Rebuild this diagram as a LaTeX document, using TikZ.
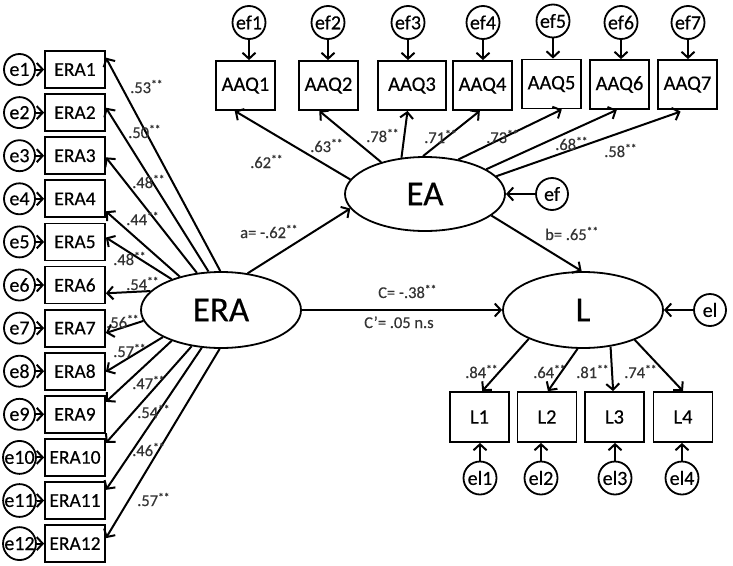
\documentclass[tikz,border=0pt]{standalone}
\usepackage{fontspec}
\setmainfont{Carlito}[FakeBold=0.4]
\usetikzlibrary{shapes.geometric,arrows.meta}
\newcommand{\sg}{\raisebox{0.3em}{\fontsize{11.5}{11.5}\selectfont **}}
\begin{document}
\begin{tikzpicture}[x=1pt,y=-1pt,
  obs/.style={draw, line width=1.8pt, minimum width=59pt, minimum height=49pt, inner sep=0pt, font=\fontsize{20.5}{20.5}\selectfont},
  erabox/.style={obs, minimum width=60pt, minimum height=37pt, font=\fontsize{19.5}{19.5}\selectfont},
  err/.style={draw, circle, line width=1.8pt, minimum size=31pt, inner sep=0pt, font=\fontsize{20}{20}\selectfont},
  lat/.style={draw, ellipse, line width=1.8pt, minimum width=160pt, minimum height=76pt, inner sep=0pt, font=\fontsize{35}{35}\selectfont},
  arr/.style={line width=2pt, -{Straight Barb[length=6pt,width=13pt]}},
  coef/.style={font=\fontsize{16.5}{17}\selectfont, anchor=base west, inner sep=0pt, text=black!80}]
\useasboundingbox (0,0) rectangle (733,565);

% latent variables
\node[lat] (ERA) at (221,310) {ERA};
\node[lat, minimum height=74pt] (EA) at (425,194) {EA};
\node[lat] (L) at (583,310) {L};

% ERA indicators
\foreach \i in {1,...,12} {
  \node[erabox] (ERA\i) at (75,{69.5+(\i-1)*43.1}) {ERA\i};
  \node[err] (e\i) at (19.5,{69.5+(\i-1)*43.1}) {e\i};
  \draw[arr] (e\i) -- (ERA\i);
}
\foreach \i/\a/\b in {1/91.5/21, 2/108.4/9.5, 3/123.7/-3, 4/141.5/-22, 5/148.5/8.5, 6/165.8/-15,
                      7/188.7/-9.3, 8/205/-1.5, 9/212.3/22.3, 10/231/25.6, 11/243.4/19.3, 12/268.5/10.6}
  \draw[arr] (ERA.\a) -- (ERA\i.\b);

\node[coef] at (130,93) {.53\sg};
\node[coef] at (128,138) {.50\sg};
\node[coef] at (132,188) {.48\sg};
\node[coef] at (126,225) {.44\sg};
\node[coef] at (113,265) {.48\sg};
\node[coef] at (126,290) {.54\sg};
\node[coef] at (106,328) {.56\sg};
\node[coef] at (113,357) {.57\sg};
\node[coef] at (132,389) {.47\sg};
\node[coef] at (137,418) {.54\sg};
\node[coef] at (132,456) {.46\sg};
\node[coef] at (137,506) {.57\sg};

% AAQ indicators
\foreach \n/\x/\y/\w in {1/245.5/85.5/59, 2/328.5/85.5/59, 3/412/85.5/68, 4/482.5/85.5/59, 5/551.5/84/59, 6/619.5/84.5/59, 7/687.5/84.5/59}
  \node[obs, minimum width=\w pt] (AAQ\n) at (\x,\y) {AAQ\n};
\foreach \n/\x/\y in {1/249/22.5, 2/328/22.5, 3/408/22.5, 4/483/22.5, 5/553/21, 6/621/22.5, 7/688/22.5} {
  \node[err, minimum size=33pt] (ef\n) at (\x,\y) {ef\n};
  \draw[arr] (ef\n) -- (ef\n |- AAQ\n.north);
}
\foreach \n/\a/\b/\s in {1/169.8/247/0, 2/144.5/250/0, 3/123.7/260.7/0, 4/93/264/0, 5/46.8/292.8/0, 6/22.6/264/0, 7/14/265/5}
  \draw[arr, shorten >=\s pt] (EA.\a) -- (AAQ\n.\b);

\node[coef] at (250,168) {.62\sg};
\node[coef] at (310,152) {.63\sg};
\node[coef] at (366,142) {.78\sg};
\node[coef] at (424,143) {.71\sg};
\node[coef] at (486,143) {.73\sg};
\node[coef] at (555,150) {.68\sg};
\node[coef] at (604,157) {.58\sg};

% disturbances of latent variables
\node[err, minimum size=32pt] (ef) at (552,194) {ef};
\draw[arr] (ef) -- (EA);
\node[err, minimum size=32pt] (el) at (710,310) {el};
\draw[arr] (el) -- (L);

% structural paths
\draw[arr] (ERA.54.8) -- (EA.191);
\draw[arr] (EA.-18.2) -- (L.92);
\draw[arr] (ERA) -- (L);
\node[coef] at (240,238) {a= -.62\sg};
\node[coef] at (545,240) {b= .65\sg};
\node[coef] at (378,298) {C= -.38\sg};
\node[coef] at (364,328) {C’= .05 n.s};

% L indicators
\foreach \n/\x/\ex in {1/479.5/480, 2/547/541, 3/614.5/615, 4/683/682} {
  \node[obs, minimum height=50pt] (L\n) at (\x,417) {L\n};
  \node[err, minimum size=33pt] (el\n) at (\ex,478) {el\n};
  \draw[arr] (el\n) -- (el\n |- L\n.south);
}
\draw[arr] (L.208) -- (L1.84);
\draw[arr] (L.262) -- (L2.88);
\draw[arr] (L.-53) -- (L3.93);
\draw[arr] (L.-30.4) -- (L4.90);
\node[coef] at (465,378) {.84\sg};
\node[coef] at (533,378) {.64\sg};
\node[coef] at (576,378) {.81\sg};
\node[coef] at (624,378) {.74\sg};
\end{tikzpicture}
\end{document}
